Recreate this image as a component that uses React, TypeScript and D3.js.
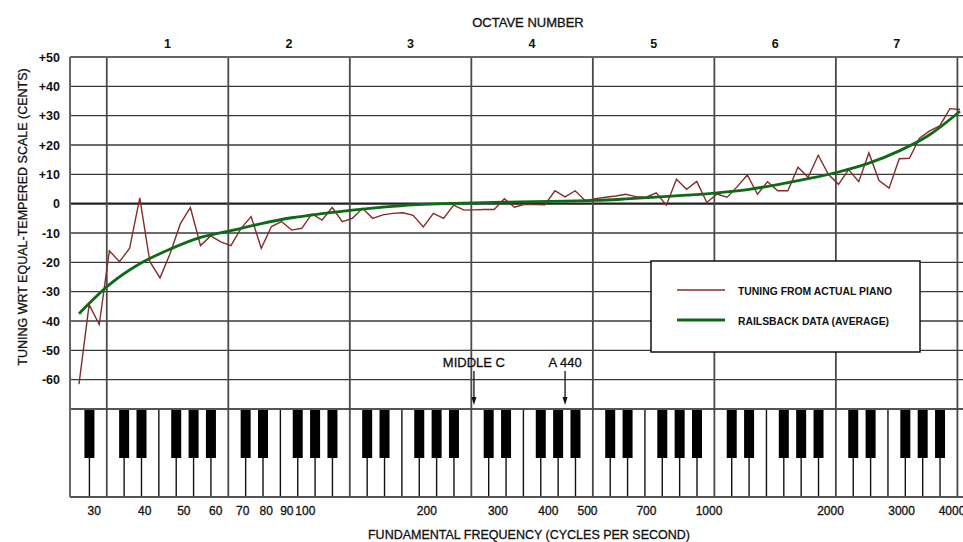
import React, { useEffect, useRef } from "react";
import * as d3 from "d3";

const WIDTH = 963;
const HEIGHT = 542;

// measured tuning of each of the 88 keys (A0 .. C8), cents
const pianoCents = [
  -61.5, -34.4, -41.2, -16.1, -19.8, -15.2, 2.0, -19.8, -25.3, -17.0, -6.9, -1.3,
  -14.3, -11.0, -13.0, -14.3, -8.4, -4.4, -15.2, -7.8, -6.1, -9.0, -8.4, -3.5,
  -5.6, -1.3, -6.1, -5.0, -1.6, -5.0, -3.8, -3.3, -3.1, -4.0, -7.9, -3.3,
  -5.0, -0.5, -2.2, -2.1, -2.0, -2.0, 1.7, -1.2, -0.2, -0.3, -0.4, 4.4,
  2.3, 4.4, 1.0, 1.7, 2.2, 2.6, 3.2, 2.4, 2.2, 3.7, -0.5, 8.3,
  4.9, 7.6, 0.4, 3.3, 2.2, 5.8, 9.8, 3.2, 7.5, 4.4, 4.4, 12.4,
  9.0, 16.5, 10.0, 6.6, 11.6, 7.5, 17.3, 7.9, 5.3, 15.3, 15.5, 22.3,
  24.8, 26.5, 32.4, 32.1,
];

// Railsback average curve, read every third key
const railsbackKeys = [
  0, 3, 6, 9, 12, 15, 18, 21, 24, 27, 30, 33, 36, 39, 42,
  45, 48, 51, 54, 57, 60, 63, 66, 69, 72, 75, 78, 81, 84, 87,
];
const railsbackCents = [
  -37.5, -27.6, -20.5, -15.5, -11.5, -9.2, -6.8, -4.8, -3.4, -2.2, -1.2, -0.4, 0.0, 0.3, 0.5,
  0.7, 0.9, 1.1, 1.6, 2.2, 2.9, 3.7, 4.8, 6.5, 8.5, 10.8, 13.8, 18.0, 23.5, 31.5,
];

const centTicks = [50, 40, 30, 20, 10, 0, -10, -20, -30, -40, -50, -60];
const freqTicks = [30, 40, 50, 60, 70, 80, 90, 100, 200, 300, 400, 500, 700, 1000, 2000, 3000, 4000];
const octaveNumbers = [1, 2, 3, 4, 5, 6, 7];
const legendLabels = ["TUNING FROM ACTUAL PIANO", "RAILSBACK DATA (AVERAGE)"];
const markerLabels = ["MIDDLE C", "A 440"];
const markerKeys = [39, 48];

const RED = "#872b2b";
const GREEN = "#0f6a18";
const FONT = "'Liberation Sans', Arial, Helvetica, sans-serif";
const INK = "#111";

const keyFreq = (k: number) => 27.5 * Math.pow(2, k / 12);

export default function App() {
  const ref = useRef<SVGSVGElement>(null);

  useEffect(() => {
    const svg = d3.select(ref.current);
    svg.selectAll("*").remove();

    const left = 70;
    const x = d3.scaleLog().domain([keyFreq(0), keyFreq(87)]).range([79, 960]);
    const y = d3.scaleLinear().domain([-70, 50]).range([409, 57]);
    const top = y(50);
    const kbTop = y(-70);
    const kbBottom = kbTop + 88;

    // white keys are evenly spaced; index 0 = A0, 2 = C1, 51 = C8
    const keyShift = -2.6;
    const whiteW = (x(keyFreq(87)) - x(keyFreq(3))) / 49;
    const whiteEdge = (i: number) => x(keyFreq(3)) + keyShift + (i - 2) * whiteW;

    // slightly heavier text, the scan looks inked
    const ink = (sel: any) => sel.attr("fill", INK).attr("stroke", INK).attr("stroke-width", 0.3);

    svg.append("rect").attr("width", WIDTH).attr("height", HEIGHT).attr("fill", "#fff");

    // horizontal grid
    svg.append("g").selectAll("line")
      .data(centTicks.filter((d) => d !== 0 && d !== 50))
      .enter().append("line")
      .attr("x1", left).attr("x2", WIDTH)
      .attr("y1", (d) => y(d)).attr("y2", (d) => y(d))
      .attr("stroke", "#3a3a3a").attr("stroke-width", 1.4);

    svg.append("line")
      .attr("x1", left).attr("x2", WIDTH).attr("y1", y(0)).attr("y2", y(0))
      .attr("stroke", "#222").attr("stroke-width", 2.2);

    // keyboard dividers and black keys
    const dividers = d3.range(1, 53).filter((i) => (i - 2) % 7 !== 0);
    svg.append("g").selectAll("line")
      .data(dividers)
      .enter().append("line")
      .attr("x1", (i) => whiteEdge(i)).attr("x2", (i) => whiteEdge(i))
      .attr("y1", kbTop).attr("y2", kbBottom)
      .attr("stroke", "#111").attr("stroke-width", 1.4);

    const blackAfter = d3.range(0, 51).filter((i) => [0, 2, 3, 5, 6].includes(i % 7));
    svg.append("g").selectAll("rect")
      .data(blackAfter)
      .enter().append("rect")
      .attr("x", (i) => whiteEdge(i + 1) - 5)
      .attr("width", 10)
      .attr("y", kbTop)
      .attr("height", 49)
      .attr("fill", "#000");

    svg.append("line")
      .attr("x1", left).attr("x2", WIDTH).attr("y1", kbTop).attr("y2", kbTop)
      .attr("stroke", "#555").attr("stroke-width", 1.8);
    svg.append("line")
      .attr("x1", left).attr("x2", WIDTH).attr("y1", kbBottom).attr("y2", kbBottom)
      .attr("stroke", "#555").attr("stroke-width", 1.8);

    // octave boundaries + frame
    svg.append("g").selectAll("line")
      .data(d3.range(0, 8))
      .enter().append("line")
      .attr("x1", (k) => whiteEdge(2 + 7 * k)).attr("x2", (k) => whiteEdge(2 + 7 * k))
      .attr("y1", top).attr("y2", kbBottom)
      .attr("stroke", "#4a4a4a").attr("stroke-width", 1.8);

    svg.append("line")
      .attr("x1", left).attr("x2", WIDTH).attr("y1", top).attr("y2", top)
      .attr("stroke", "#666").attr("stroke-width", 2);
    svg.append("line")
      .attr("x1", left).attr("x2", left).attr("y1", top).attr("y2", kbBottom)
      .attr("stroke", "#666").attr("stroke-width", 2);

    // data
    const redLine = d3.line<number>()
      .x((d, i) => x(keyFreq(i)))
      .y((d) => y(d));
    svg.append("path")
      .attr("d", redLine(pianoCents))
      .attr("fill", "none").attr("stroke", RED).attr("stroke-width", 1.4);

    const greenLine = d3.line<number>()
      .x((d, i) => x(keyFreq(railsbackKeys[i])))
      .y((d) => y(d))
      .curve(d3.curveMonotoneX);
    svg.append("path")
      .attr("d", greenLine(railsbackCents))
      .attr("fill", "none").attr("stroke", GREEN).attr("stroke-width", 2.8);

    // legend
    const lg = svg.append("g");
    lg.append("rect")
      .attr("x", 651).attr("y", 261).attr("width", 269).attr("height", 91)
      .attr("fill", "#fff").attr("stroke", "#111").attr("stroke-width", 1.5);
    const legendColors = [RED, GREEN];
    const legendWidths = [1.4, 2.8];
    const legendLengths = [154, 151];
    legendLabels.forEach((label, i) => {
      const ly = 290 + i * 30;
      lg.append("line")
        .attr("x1", 677).attr("x2", 725).attr("y1", ly).attr("y2", ly)
        .attr("stroke", legendColors[i]).attr("stroke-width", legendWidths[i]);
      lg.append("text")
        .attr("x", 738).attr("y", ly + 5)
        .attr("font-family", FONT).attr("font-size", 11).attr("font-weight", "bold")
        .attr("textLength", legendLengths[i]).attr("lengthAdjust", "spacingAndGlyphs")
        .attr("fill", INK)
        .text(label);
    });

    // axis labels
    svg.append("g").selectAll("text")
      .data(centTicks)
      .enter().append("text")
      .attr("x", 60).attr("y", (d) => y(d)).attr("dy", "0.36em")
      .attr("text-anchor", "end")
      .attr("font-family", FONT).attr("font-size", 12.5).attr("font-weight", "bold")
      .attr("fill", INK)
      .text((d) => (d > 0 ? "+" + d : String(d)));

    svg.append("g").selectAll("text")
      .data(freqTicks)
      .enter().append("text")
      .attr("x", (d) => x(d)).attr("y", 515)
      .attr("text-anchor", "middle")
      .attr("font-family", FONT).attr("font-size", 12)
      .call(ink)
      .text((d) => d);

    svg.append("g").selectAll("text")
      .data(octaveNumbers)
      .enter().append("text")
      .attr("x", (d) => (whiteEdge(2 + 7 * (d - 1)) + whiteEdge(2 + 7 * d)) / 2)
      .attr("y", 47.5)
      .attr("text-anchor", "middle")
      .attr("font-family", FONT).attr("font-size", 12.5).attr("font-weight", "bold")
      .attr("fill", INK)
      .text((d) => d);

    svg.append("text")
      .attr("x", 528).attr("y", 26.5).attr("text-anchor", "middle")
      .attr("font-family", FONT).attr("font-size", 13)
      .call(ink)
      .text("OCTAVE NUMBER");

    svg.append("text")
      .attr("x", 529).attr("y", 539).attr("text-anchor", "middle")
      .attr("font-family", FONT).attr("font-size", 12.5)
      .call(ink)
      .text("FUNDAMENTAL FREQUENCY (CYCLES PER SECOND)");

    svg.append("text")
      .attr("transform", "translate(26.5,217) rotate(-90)")
      .attr("text-anchor", "middle")
      .attr("font-family", FONT).attr("font-size", 12.5)
      .call(ink)
      .text("TUNING WRT EQUAL-TEMPERED SCALE (CENTS)");

    // middle C / A440 markers
    markerKeys.forEach((k, i) => {
      const mx = x(keyFreq(k));
      svg.append("text")
        .attr("x", mx).attr("y", 366.5).attr("text-anchor", "middle")
        .attr("font-family", FONT).attr("font-size", 13)
        .call(ink)
        .text(markerLabels[i]);
      svg.append("line")
        .attr("x1", mx).attr("x2", mx).attr("y1", 371).attr("y2", 398)
        .attr("stroke", INK).attr("stroke-width", 1.3);
      svg.append("path")
        .attr("d", `M${mx - 2.5},397 L${mx + 2.5},397 L${mx},405 Z`)
        .attr("fill", INK);
    });
  }, []);

  return (
    <svg
      ref={ref}
      width={WIDTH}
      height={HEIGHT}
      style={{ position: "absolute", left: 0, top: 0, display: "block" }}
    />
  );
}
